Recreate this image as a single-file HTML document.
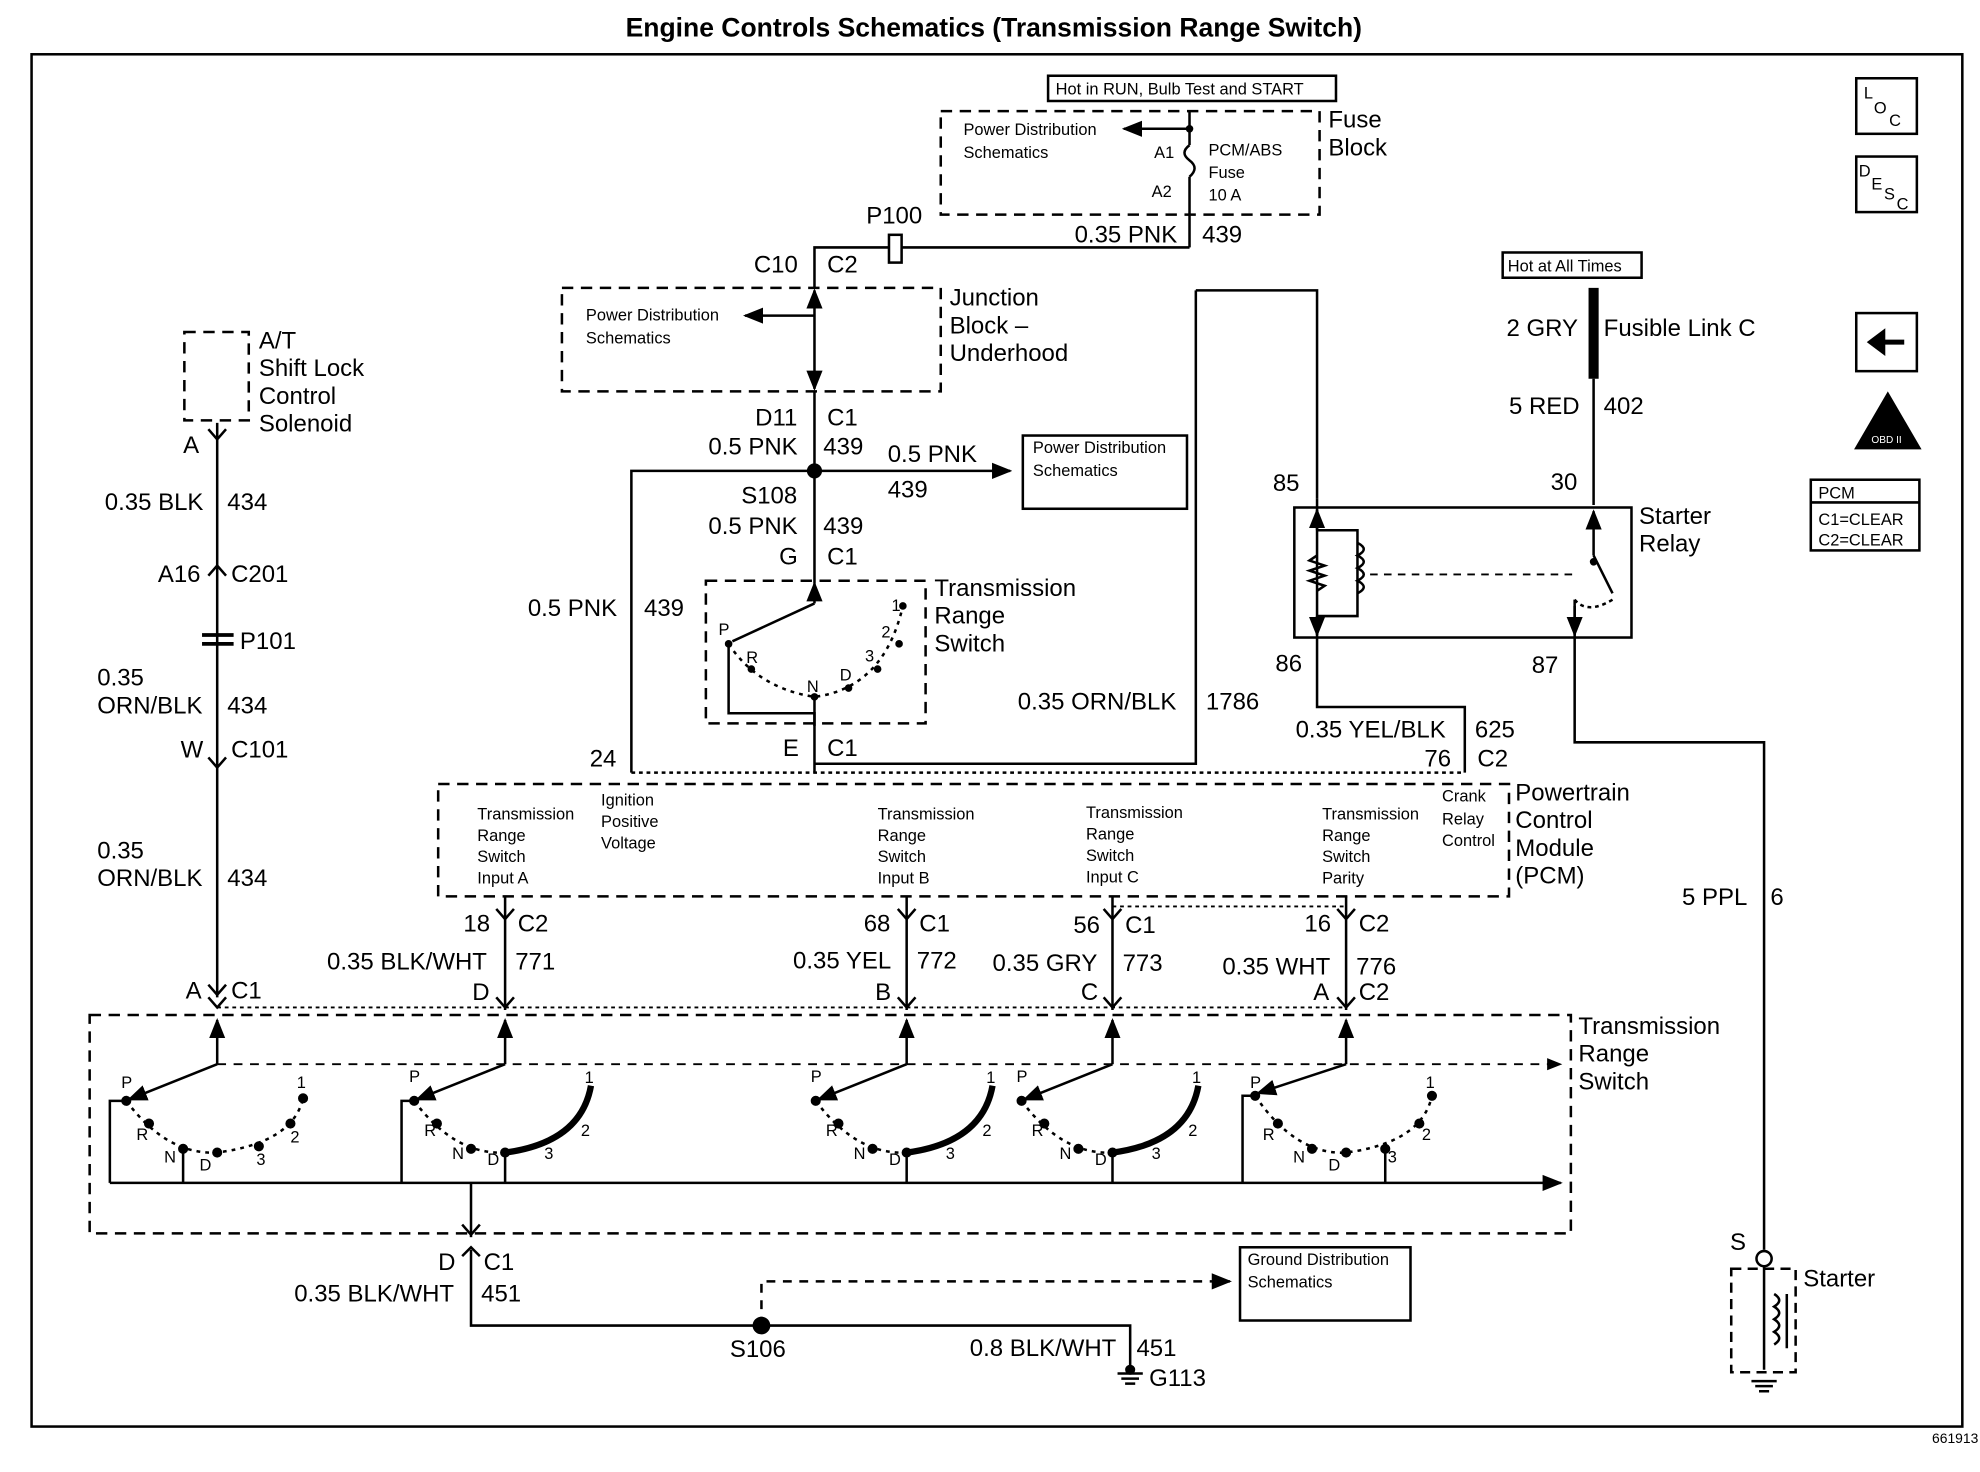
<!DOCTYPE html>
<html><head><meta charset="utf-8"><style>
html,body{margin:0;padding:0;background:#fff}
svg{display:block}
text{font-family:"Liberation Sans",sans-serif;fill:#000}
.t{font-size:19px}
.s{font-size:13px}
.xs{font-size:11px}
</style></head><body>
<svg width="1980" height="1472" viewBox="0 0 1568 1166" preserveAspectRatio="none" xmlns="http://www.w3.org/2000/svg">
<defs>
<marker id="ar" viewBox="0 0 10 10" refX="9" refY="5" markerWidth="8" markerHeight="8" orient="auto-start-reverse"><path d="M0,1 L10,5 L0,9 z" fill="#000"/></marker>
</defs>
<g stroke="#000" stroke-width="2" fill="none">
<text x="787" y="29" text-anchor="middle" style="font-size:21px;font-weight:bold" stroke="none">Engine Controls Schematics (Transmission Range Switch)</text>
<rect x="25" y="43" width="1529" height="1087" stroke-width="2"/>
<!-- right icons -->
<rect x="1470" y="62" width="48" height="44"/><rect x="1470" y="124" width="48" height="44"/>
<rect x="1470" y="248" width="48" height="46"/>
<path d="M1508,271 H1488" stroke-width="4"/><path d="M1480,271 L1492,262 L1492,280 z" fill="#000"/>
<path d="M1495,312 L1520,355 L1470,355 z" fill="#000"/>
<rect x="1434" y="380" width="86" height="56"/><line x1="1434" y1="398" x2="1520" y2="398"/>
<!-- fuse block -->
<rect x="830" y="60" width="228" height="20"/>
<rect x="745" y="88" width="300" height="82" stroke-dasharray="9,6"/>
<line x1="942" y1="102" x2="890" y2="102" marker-end="url(#ar)"/>
<path d="M942,88 V115 M942,140 V196 M942,115 q-8,6 0,12 q8,6 0,13"/>
<circle cx="942" cy="102" r="2" fill="#000"/>
<path d="M942,196 H645 V228"/>
<rect x="704" y="186" width="10" height="22" fill="#fff"/>
<!-- junction block -->
<rect x="445" y="228" width="300" height="82" stroke-dasharray="9,6"/>
<line x1="645" y1="250" x2="590" y2="250" marker-end="url(#ar)"/>
<line x1="645" y1="230" x2="645" y2="308" marker-start="url(#ar)" marker-end="url(#ar)"/>
<path d="M645,310 V462"/>
<circle cx="645" cy="373" r="5" fill="#000"/>
<line x1="645" y1="373" x2="800" y2="373" marker-end="url(#ar)"/>
<rect x="810" y="345" width="130" height="58"/>
<path d="M645,373 H500 V612"/>
<!-- small TRS -->
<rect x="559" y="460" width="174" height="113" stroke-dasharray="9,6"/>
<line x1="645" y1="478" x2="645" y2="462" marker-end="url(#ar)"/>
<line x1="645" y1="478" x2="580" y2="508"/>
<path d="M577,510 Q600,545 645,552 Q700,545 715,480" stroke-dasharray="3,4"/>
<path d="M577,510 V565 H645 V612"/>
<path d="M645,552 V575"/>
<!-- 1786 -->
<path d="M947,230 H1043 V395 M947,230 V605 H645"/>
<!-- relay -->
<rect x="1025" y="402" width="267" height="103"/>
<path d="M1043,395 V505 M1043,505 V560 H1160 V612"/>
<line x1="1043" y1="420" x2="1043" y2="404" marker-end="url(#ar)"/>
<line x1="1043" y1="488" x2="1043" y2="503" marker-end="url(#ar)"/>
<path d="M1043,420 H1075 V488 H1043 M1043,440 l-6,4 12,4 -12,4 12,4 -12,4 12,4 -6,4"/>
<path d="M1075,430 q10,5 0,10 q10,5 0,10 q10,5 0,10 q10,5 0,10"/>
<path d="M1085,455 H1250" stroke-dasharray="6,5" stroke-width="1.5"/>
<path d="M1247,475 q10,12 30,0" stroke-dasharray="3,3"/>
<path d="M1262,228 V300" stroke-width="8"/>
<rect x="1190" y="200" width="110" height="20"/>
<path d="M1262,300 V400"/>
<line x1="1262" y1="440" x2="1262" y2="405" marker-end="url(#ar)"/>
<path d="M1262,440 l15,30"/><circle cx="1262" cy="445" r="2" fill="#000"/>
<path d="M1247,475 V505 M1247,505 V588 H1397 V990"/>
<line x1="1247" y1="480" x2="1247" y2="503" marker-end="url(#ar)"/>
<circle cx="1397" cy="997" r="6" fill="#fff"/>
<rect x="1371" y="1005" width="51" height="82" stroke-dasharray="8,5"/>
<path d="M1397,1003 V1085"/>
<path d="M1405,1025 q8,5 0,10 q8,5 0,10 q8,5 0,10 q8,5 0,10 M1415,1025 V1068"/>
<path d="M1387,1094 H1407 M1390,1098 H1404 M1393,1102 H1401"/>
<!-- PCM -->
<path d="M500,612 H1160" stroke-dasharray="3,3"/>
<rect x="347" y="621" width="848" height="89" stroke-dasharray="9,6"/>
<!-- left wire -->
<rect x="146" y="263" width="51" height="70" stroke-dasharray="9,6"/>
<path d="M172,335 V790"/>
<path d="M165,340 l7,8 7,-8 M165,456 l7,-8 7,8 M165,600 l7,8 7,-8 M165,780 l7,8 7,-8"/>
<path d="M160,503 H185 M160,510 H185" stroke-width="3"/>
<!-- bottom connectors -->
<path d="M400,710 V800 M718,710 V800 M881,710 V800 M1066,710 V800"/>
<path d="M393,720 l7,8 7,-8 M711,720 l7,8 7,-8 M874,720 l7,8 7,-8 M1059,720 l7,8 7,-8"/>
<path d="M881,718 H1066 M172,798 H1066" stroke-dasharray="3,3" stroke-width="1.5"/>
<path d="M393,790 l7,8 7,-8 M711,790 l7,8 7,-8 M874,790 l7,8 7,-8 M1059,790 l7,8 7,-8 M165,790 l7,8 7,-8"/>
<!-- big TRS -->
<rect x="71" y="804" width="1173" height="173" stroke-dasharray="9,6"/>
<line x1="172" y1="843" x2="1236" y2="843" stroke-dasharray="7,6" marker-end="url(#ar)" stroke-width="1.5"/>
<line x1="87" y1="937" x2="1236" y2="937" marker-end="url(#ar)"/>
<g transform="translate(172,0)">
<line x1="0" y1="843" x2="0" y2="808" marker-end="url(#ar)"/><line x1="0" y1="843" x2="-70" y2="871" marker-end="url(#ar)"/>
<path d="M-72,872 Q-40,915 0,913 Q60,905 68,870" stroke-dasharray="3,4"/>
<path d="M-72,872 H-85 V937 M-27,910 V937"/>
<g fill="#000"><circle cx="-72" cy="872" r="3"/><circle cx="-54" cy="890" r="3"/><circle cx="-27" cy="910" r="3"/><circle cx="0" cy="913" r="3"/><circle cx="33" cy="908" r="3"/><circle cx="58" cy="890" r="3"/><circle cx="68" cy="870" r="3"/></g>
<g class="s" stroke="none"><text x="-76" y="862">P</text><text x="-64" y="903">R</text><text x="-42" y="921">N</text><text x="-14" y="927">D</text><text x="31" y="923">3</text><text x="58" y="905">2</text><text x="63" y="862">1</text></g>
</g>
<g transform="translate(400,0)">
<line x1="0" y1="843" x2="0" y2="808" marker-end="url(#ar)"/><line x1="0" y1="843" x2="-70" y2="871" marker-end="url(#ar)"/>
<path d="M-72,872 Q-40,915 0,913" stroke-dasharray="3,4"/><path d="M0,913 Q60,905 68,860" stroke-width="5"/>
<path d="M-72,872 H-82 V937 M0,913 V937"/>
<g fill="#000"><circle cx="-72" cy="872" r="3"/><circle cx="-54" cy="890" r="3"/><circle cx="-27" cy="910" r="3"/><circle cx="0" cy="913" r="3"/></g>
<g class="s" stroke="none"><text x="-76" y="857">P</text><text x="-64" y="900">R</text><text x="-42" y="918">N</text><text x="-14" y="923">D</text><text x="31" y="918">3</text><text x="60" y="900">2</text><text x="63" y="858">1</text></g>
</g>
<g transform="translate(718,0)">
<line x1="0" y1="843" x2="0" y2="808" marker-end="url(#ar)"/><line x1="0" y1="843" x2="-70" y2="871" marker-end="url(#ar)"/>
<path d="M-72,872 Q-40,915 0,913" stroke-dasharray="3,4"/><path d="M0,913 Q60,905 68,860" stroke-width="5"/>
<path d="M0,913 V937"/>
<g fill="#000"><circle cx="-72" cy="872" r="3"/><circle cx="-54" cy="890" r="3"/><circle cx="-27" cy="910" r="3"/><circle cx="0" cy="913" r="3"/></g>
<g class="s" stroke="none"><text x="-76" y="857">P</text><text x="-64" y="900">R</text><text x="-42" y="918">N</text><text x="-14" y="923">D</text><text x="31" y="918">3</text><text x="60" y="900">2</text><text x="63" y="858">1</text></g>
</g>
<g transform="translate(881,0)">
<line x1="0" y1="843" x2="0" y2="808" marker-end="url(#ar)"/><line x1="0" y1="843" x2="-70" y2="871" marker-end="url(#ar)"/>
<path d="M-72,872 Q-40,915 0,913" stroke-dasharray="3,4"/><path d="M0,913 Q60,905 68,860" stroke-width="5"/>
<path d="M0,913 V937"/>
<g fill="#000"><circle cx="-72" cy="872" r="3"/><circle cx="-54" cy="890" r="3"/><circle cx="-27" cy="910" r="3"/><circle cx="0" cy="913" r="3"/></g>
<g class="s" stroke="none"><text x="-76" y="857">P</text><text x="-64" y="900">R</text><text x="-42" y="918">N</text><text x="-14" y="923">D</text><text x="31" y="918">3</text><text x="60" y="900">2</text><text x="63" y="858">1</text></g>
</g>
<g transform="translate(1066,0)">
<line x1="0" y1="843" x2="0" y2="808" marker-end="url(#ar)"/><line x1="0" y1="843" x2="-70" y2="866" marker-end="url(#ar)"/>
<path d="M-72,868 Q-40,915 0,913 Q60,905 68,868" stroke-dasharray="3,4"/>
<path d="M-72,868 H-82 V937 M31,910 V937"/>
<g fill="#000"><circle cx="-72" cy="868" r="3"/><circle cx="-54" cy="890" r="3"/><circle cx="-27" cy="910" r="3"/><circle cx="0" cy="913" r="3"/><circle cx="31" cy="910" r="3"/><circle cx="58" cy="890" r="3"/><circle cx="68" cy="868" r="3"/></g>
<g class="s" stroke="none"><text x="-76" y="862">P</text><text x="-66" y="903">R</text><text x="-42" y="921">N</text><text x="-14" y="927">D</text><text x="33" y="921">3</text><text x="60" y="903">2</text><text x="63" y="862">1</text></g>
</g>
<!-- ground -->
<path d="M373,937 V980"/><path d="M366,970 l7,8 7,-8"/>
<path d="M373,990 V1050 H895 V1085"/><path d="M366,995 l7,-7 7,7"/>
<circle cx="603" cy="1050" r="6" fill="#000"/>
<path d="M603,1050 V1015 H972" stroke-dasharray="7,6"/><line x1="960" y1="1015" x2="974" y2="1015" marker-end="url(#ar)"/>
<rect x="982" y="988" width="135" height="58"/>
<path d="M885,1088 H905 M888,1092 H902 M891,1096 H899" /><circle cx="895" cy="1085" r="3" fill="#000"/>
</g>
<g class="t">
<text x="1052" y="101">Fuse</text><text x="1052" y="123">Block</text>
<text x="851" y="192">0.35 PNK</text><text x="952" y="192">439</text>
<text x="686" y="177">P100</text><text x="597" y="216">C10</text><text x="655" y="216">C2</text>
<text x="752" y="242">Junction</text><text x="752" y="264">Block –</text><text x="752" y="286">Underhood</text>
<text x="598" y="337">D11</text><text x="655" y="337">C1</text>
<text x="561" y="360">0.5 PNK</text><text x="652" y="360">439</text>
<text x="703" y="366">0.5 PNK</text><text x="703" y="394">439</text>
<text x="587" y="399">S108</text><text x="561" y="423">0.5 PNK</text><text x="652" y="423">439</text>
<text x="617" y="447">G</text><text x="655" y="447">C1</text>
<text x="418" y="488">0.5 PNK</text><text x="510" y="488">439</text>
<text x="740" y="472">Transmission</text><text x="740" y="494">Range</text><text x="740" y="516">Switch</text>
<text x="620" y="599">E</text><text x="655" y="599">C1</text>
<text x="806" y="562">0.35 ORN/BLK</text><text x="955" y="562">1786</text>
<text x="1193" y="266">2 GRY</text><text x="1270" y="266">Fusible Link C</text>
<text x="1195" y="328">5 RED</text><text x="1270" y="328">402</text>
<text x="1008" y="389">85</text><text x="1228" y="388">30</text>
<text x="1298" y="415">Starter</text><text x="1298" y="437">Relay</text>
<text x="1010" y="532">86</text><text x="1213" y="533">87</text>
<text x="1026" y="584">0.35 YEL/BLK</text><text x="1168" y="584">625</text>
<text x="1128" y="607">76</text><text x="1170" y="607">C2</text>
<text x="467" y="607">24</text>
<text x="1200" y="634">Powertrain</text><text x="1200" y="656">Control</text><text x="1200" y="678">Module</text><text x="1200" y="700">(PCM)</text>
<text x="1332" y="717">5 PPL</text><text x="1402" y="717">6</text>
<text x="205" y="276">A/T</text><text x="205" y="298">Shift Lock</text><text x="205" y="320">Control</text><text x="205" y="342">Solenoid</text>
<text x="145" y="359">A</text>
<text x="83" y="404">0.35 BLK</text><text x="180" y="404">434</text>
<text x="125" y="461">A16</text><text x="183" y="461">C201</text>
<text x="190" y="514">P101</text>
<text x="77" y="543">0.35</text><text x="77" y="565">ORN/BLK</text><text x="180" y="565">434</text>
<text x="143" y="600">W</text><text x="183" y="600">C101</text>
<text x="77" y="680">0.35</text><text x="77" y="702">ORN/BLK</text><text x="180" y="702">434</text>
<text x="147" y="791">A</text><text x="183" y="791">C1</text>
<text x="367" y="738">18</text><text x="410" y="738">C2</text>
<text x="259" y="768">0.35 BLK/WHT</text><text x="408" y="768">771</text><text x="374" y="792">D</text>
<text x="684" y="738">68</text><text x="728" y="738">C1</text>
<text x="628" y="767">0.35 YEL</text><text x="726" y="767">772</text><text x="693" y="792">B</text>
<text x="850" y="739">56</text><text x="891" y="739">C1</text>
<text x="786" y="769">0.35 GRY</text><text x="889" y="769">773</text><text x="856" y="792">C</text>
<text x="1033" y="738">16</text><text x="1076" y="738">C2</text>
<text x="968" y="772">0.35 WHT</text><text x="1074" y="772">776</text><text x="1040" y="792">A</text><text x="1076" y="792">C2</text>
<text x="1250" y="819">Transmission</text><text x="1250" y="841">Range</text><text x="1250" y="863">Switch</text>
<text x="347" y="1006">D</text><text x="383" y="1006">C1</text>
<text x="233" y="1031">0.35 BLK/WHT</text><text x="381" y="1031">451</text>
<text x="578" y="1075">S106</text>
<text x="768" y="1074">0.8 BLK/WHT</text><text x="900" y="1074">451</text>
<text x="910" y="1098">G113</text>
<text x="1370" y="990">S</text><text x="1428" y="1019">Starter</text>
</g>
<g class="s">
<text x="836" y="75">Hot in RUN, Bulb Test and START</text>
<text x="763" y="107">Power Distribution</text><text x="763" y="125">Schematics</text>
<text x="914" y="125">A1</text><text x="912" y="156">A2</text>
<text x="957" y="123">PCM/ABS</text><text x="957" y="141">Fuse</text><text x="957" y="159">10 A</text>
<text x="464" y="254">Power Distribution</text><text x="464" y="272">Schematics</text>
<text x="818" y="359">Power Distribution</text><text x="818" y="377">Schematics</text>
<text x="1194" y="215">Hot at All Times</text>
<text x="1440" y="395">PCM</text><text x="1440" y="416">C1=CLEAR</text><text x="1440" y="432">C2=CLEAR</text>
<text x="378" y="649">Transmission</text><text x="378" y="666">Range</text><text x="378" y="683">Switch</text><text x="378" y="700">Input A</text>
<text x="476" y="638">Ignition</text><text x="476" y="655">Positive</text><text x="476" y="672">Voltage</text>
<text x="695" y="649">Transmission</text><text x="695" y="666">Range</text><text x="695" y="683">Switch</text><text x="695" y="700">Input B</text>
<text x="860" y="648">Transmission</text><text x="860" y="665">Range</text><text x="860" y="682">Switch</text><text x="860" y="699">Input C</text>
<text x="1047" y="649">Transmission</text><text x="1047" y="666">Range</text><text x="1047" y="683">Switch</text><text x="1047" y="700">Parity</text>
<text x="1142" y="635">Crank</text><text x="1142" y="653">Relay</text><text x="1142" y="670">Control</text>
<text x="988" y="1002">Ground Distribution</text><text x="988" y="1020">Schematics</text>
<text x="569" y="503">P</text><text x="591" y="525">R</text><text x="639" y="548">N</text><text x="665" y="539">D</text><text x="685" y="524">3</text><text x="698" y="505">2</text><text x="706" y="484">1</text>
<text x="1476" y="78">L</text><text x="1484" y="90">O</text><text x="1496" y="100">C</text>
<text x="1472" y="140">D</text><text x="1482" y="150">E</text><text x="1492" y="158">S</text><text x="1502" y="166">C</text>
</g>
<text class="xs" x="1530" y="1143">661913</text>
<text class="xs" x="1482" y="351" style="font-size:8px;fill:#fff">OBD II</text>
<g fill="#000"><circle cx="577" cy="510" r="3"/><circle cx="595" cy="530" r="3"/><circle cx="645" cy="552" r="3"/><circle cx="672" cy="545" r="3"/><circle cx="695" cy="530" r="3"/><circle cx="712" cy="510" r="3"/><circle cx="715" cy="480" r="3"/></g>
</svg>
</body></html>
